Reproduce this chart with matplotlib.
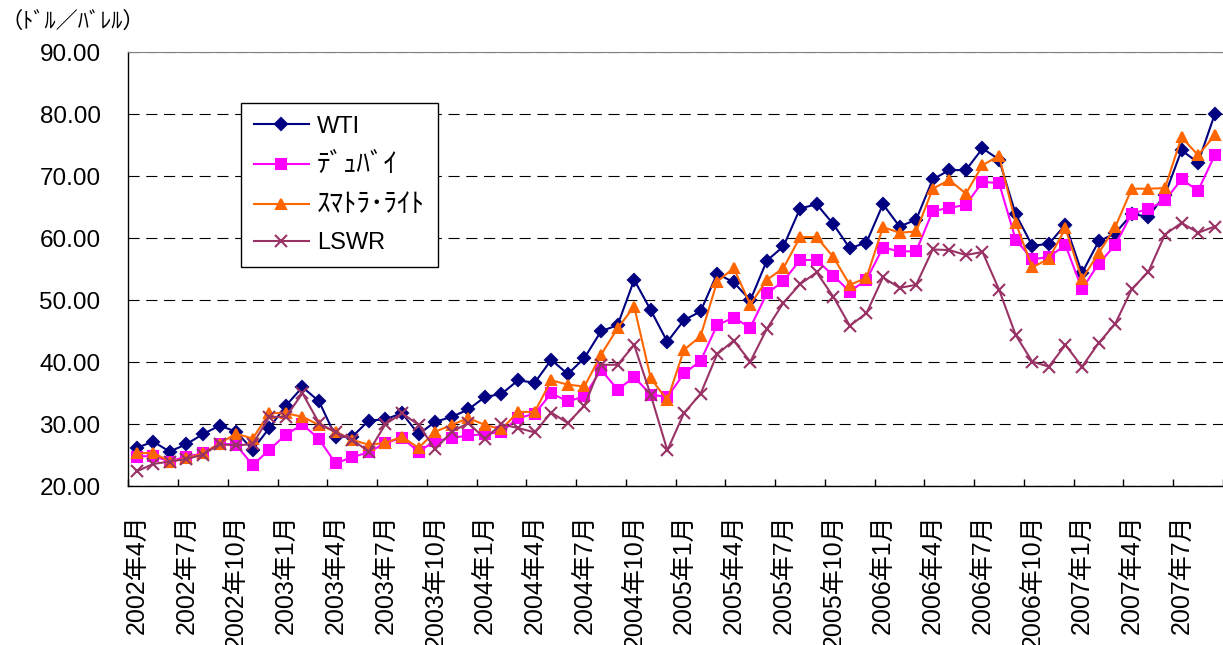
import matplotlib
matplotlib.use("Agg")
import matplotlib.pyplot as plt
import numpy as np
from matplotlib.ticker import FormatStrFormatter

plt.rcParams["font.family"] = ["Liberation Sans", "Noto Sans CJK JP"]

# monthly averages, 2002/4 .. 2007/9 (USD per barrel)
START_YEAR, START_MONTH, N_MONTHS = 2002, 4, 66
month_labels = []
for k in range(N_MONTHS):
    m = START_MONTH - 1 + k
    month_labels.append(f"{START_YEAR + m // 12}年{m % 12 + 1}月")

wti = [26.2, 27.2, 25.6, 26.8, 28.4, 29.8, 28.8, 25.9, 29.4, 33.0, 36.0, 33.7,
       28.0, 28.0, 30.6, 30.8, 31.8, 28.4, 30.4, 31.2, 32.4, 34.4, 34.9, 37.1,
       36.7, 40.4, 38.1, 40.7, 45.0, 46.0, 53.3, 48.4, 43.3, 46.8, 48.2, 54.3,
       52.9, 50.0, 56.4, 58.7, 64.8, 65.5, 62.3, 58.4, 59.3, 65.5, 61.9, 63.0,
       69.5, 71.0, 71.0, 74.5, 72.7, 63.9, 58.8, 59.1, 62.2, 54.4, 59.5, 60.8,
       63.9, 63.5, 67.0, 74.2, 72.2, 80.0]
dubai = [24.8, 24.9, 24.0, 24.8, 25.3, 26.9, 26.7, 23.4, 25.9, 28.3, 30.0, 27.6,
         23.7, 24.7, 25.5, 27.0, 27.8, 25.6, 27.3, 27.8, 28.2, 28.4, 28.8, 31.0,
         31.7, 35.0, 33.7, 34.5, 38.8, 35.6, 37.6, 34.8, 34.4, 38.2, 40.2, 46.0,
         47.2, 45.6, 51.1, 53.1, 56.5, 56.5, 54.0, 51.4, 53.3, 58.5, 57.9, 57.9,
         64.4, 64.9, 65.4, 69.1, 68.9, 59.8, 56.6, 57.0, 58.9, 51.8, 55.9, 58.9,
         64.0, 64.7, 66.1, 69.5, 67.7, 73.4]
sumatra = [25.3, 25.4, 24.0, 24.5, 25.3, 26.9, 28.5, 27.7, 31.8, 31.8, 31.2, 29.9,
           28.8, 27.5, 26.7, 27.0, 28.0, 26.2, 28.8, 29.9, 31.0, 29.9, 29.2, 32.0,
           32.0, 37.1, 36.4, 36.1, 41.2, 45.5, 49.0, 37.4, 33.9, 42.0, 44.2, 53.0,
           55.2, 49.3, 53.3, 55.2, 60.2, 60.2, 57.0, 52.5, 53.6, 61.8, 60.9, 61.1,
           68.0, 69.4, 67.2, 71.8, 73.3, 62.5, 55.3, 56.7, 61.6, 53.4, 57.6, 61.8,
           68.0, 68.0, 68.1, 76.3, 73.4, 76.6]
lswr = [22.4, 23.6, 24.0, 24.4, 25.1, 26.8, 26.6, 26.8, 31.2, 31.2, 35.0, 30.2,
        28.7, 27.5, 25.6, 30.0, 31.8, 29.9, 26.0, 28.8, 30.2, 27.7, 30.0, 29.4,
        28.7, 31.9, 30.2, 33.0, 39.6, 39.6, 42.8, 34.7, 25.8, 31.8, 34.9, 41.3,
        43.5, 40.1, 45.4, 49.6, 52.6, 54.5, 50.6, 45.9, 47.9, 53.7, 52.0, 52.5,
        58.2, 58.1, 57.3, 57.8, 51.7, 44.4, 40.1, 39.3, 42.8, 39.3, 43.1, 46.2,
        51.8, 54.6, 60.6, 62.5, 60.9, 61.9]

series = [
    ("WTI", wti, "#000080", "D", 6.5),
    ("ﾃﾞｭﾊﾞｲ", dubai, "#FF00FF", "s", 6.8),
    ("ｽﾏﾄﾗ･ﾗｲﾄ", sumatra, "#FF6600", "^", 7.8),
    ("LSWR", lswr, "#993366", "x", 8.5),
]

W, H = 1223, 645
fig = plt.figure(figsize=(W / 100, H / 100), dpi=100)
left, right, top, bottom = 128.3, 1223, 52.3, 486.3
ax = fig.add_axes([left / W, 1 - bottom / H, (right - left) / W, (bottom - top) / H])

x = np.arange(N_MONTHS)
for name, vals, color, marker, ms in series:
    ax.plot(x, vals, color=color, lw=1.5, marker=marker, ms=ms,
            mec=color, mfc=color, mew=1.5, label=name)

ax.set_xlim(-0.5, 65.4)
ax.set_ylim(20, 90)
ax.set_yticks(np.arange(20, 91, 10))
ax.yaxis.set_major_formatter(FormatStrFormatter("%.2f"))
ax.tick_params(axis="y", length=0, pad=20, labelsize=17.5)

ax.set_xticks(x[::3])
ax.set_xticklabels(month_labels[::3], rotation=90)
ax.set_xticks(np.arange(-0.5, N_MONTHS, 3), minor=True)
ax.tick_params(axis="x", which="major", length=0, pad=20, labelsize=18)
ax.tick_params(axis="x", which="minor", direction="in", length=5, width=1)

ax.grid(axis="y", color="black", lw=0.8, linestyle=(0, (10, 6)))
ax.set_axisbelow(True)
ax.spines["right"].set_visible(False)
ax.spines["top"].set_color("#808080")
for side in ["left", "bottom"]:
    ax.spines[side].set_color("black")
    ax.spines[side].set_linewidth(1.0)

leg = ax.legend(loc="upper left", bbox_to_anchor=(240.7 / W, 1 - 102.7 / H),
                bbox_transform=fig.transFigure, fontsize=17, frameon=True,
                fancybox=False, edgecolor="black", framealpha=1,
                handlelength=2.33, handletextpad=0.35, borderpad=0.55,
                labelspacing=0.6, borderaxespad=0)
leg.get_frame().set_linewidth(1.0)
# half-width kana run narrow in Noto, give them a little more size
for t in leg.get_texts():
    if not t.get_text().isascii():
        t.set_fontsize(19.5)

fig.text(0.0, 1 - 22 / H, "（ﾄﾞﾙ／ﾊﾞﾚﾙ）", fontsize=16, ha="left", va="center")

fig.savefig("out.png", dpi=100)
